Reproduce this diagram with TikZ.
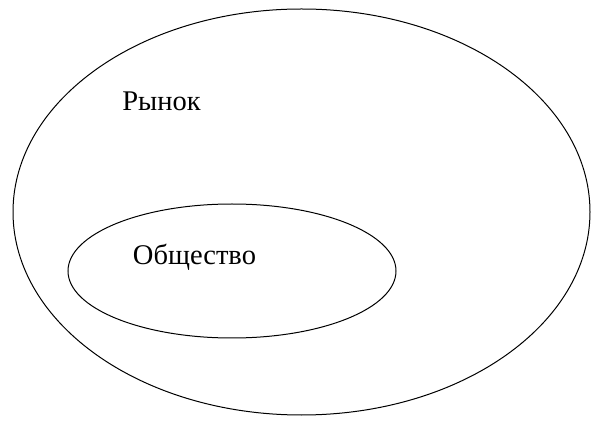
\documentclass[tikz,border=0pt]{standalone}
\usepackage{fontspec}
\setmainfont{Liberation Serif}
\usetikzlibrary{shapes.geometric, positioning}
\tikzset{
    set/.style={
           ellipse,
           draw=black, line width=1pt,
           inner sep=0pt,
           },
    setname/.style={
           font=\fontsize{28.5}{32}\selectfont,
           inner sep=0pt,
           },
}
\begin{document}
\begin{tikzpicture}[x=1pt, y=1pt]
      \useasboundingbox (0,0) rectangle (600,426);
      \node[set, minimum width=577pt, minimum height=406pt] (M) at (301.5, 214) {};
      \node[set, minimum width=328pt, minimum height=134pt] (S) at (232, 155) {};
      \node[setname] (Mlabel) at (161.5, 325) {Рынок};
      \node[setname] (Slabel) at (194.5, 168.5) {Общество};
\end{tikzpicture}
\end{document}
